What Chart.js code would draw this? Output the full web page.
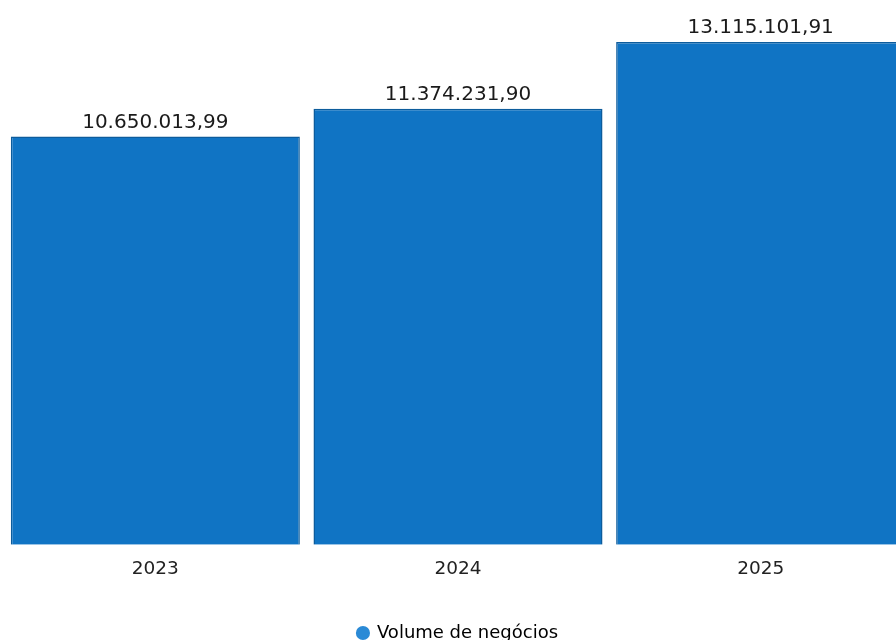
<!DOCTYPE html>
<html>
<head>
<meta charset="utf-8">
<script src="https://cdn.jsdelivr.net/npm/chart.js@4/dist/chart.umd.min.js"></script>
<style>
  html, body { margin: 0; padding: 0; background: #fff; overflow: hidden; }
  #wrap { position: absolute; left: 0; top: 0; width: 915px; height: 652px; }
</style>
</head>
<body>
<div id="wrap"><canvas id="volumeChart" width="915" height="652"></canvas></div>
<script>
const years = ['2023', '2024', '2025'];
const volumes = [10650013.99, 11374231.90, 13115101.91];
const seriesName = 'Volume de negócios';

const formatPt = (v) => v.toLocaleString('de-DE', { minimumFractionDigits: 2, maximumFractionDigits: 2 });

// draw the value above each bar
const valueLabels = {
    id: 'valueLabels',
    afterDatasetsDraw(chart) {
        const ctx = chart.ctx;
        const meta = chart.getDatasetMeta(0);
        ctx.save();
        ctx.font = '500 20px "DejaVu Sans"';
        ctx.fillStyle = '#1a1a1a';
        ctx.textAlign = 'center';
        ctx.textBaseline = 'bottom';
        meta.data.forEach((bar, i) => {
            ctx.fillText(formatPt(volumes[i]), bar.x, bar.y - 4);
        });
        ctx.restore();
    }
};

const ctx = document.getElementById('volumeChart').getContext('2d');
new Chart(ctx, {
    type: 'bar',
    data: {
        labels: years,
        datasets: [{
            label: seriesName,
            data: volumes,
            backgroundColor: '#1074c4',
            borderColor: '#0d5c9c',
            borderWidth: 1.5,
            categoryPercentage: 1,
            barPercentage: 0.955
        }]
    },
    options: {
        responsive: false,
        animation: false,
        layout: { padding: { left: 4, right: 3, top: 8, bottom: 0 } },
        scales: {
            x: {
                grid: { display: false },
                border: { display: false },
                ticks: { color: '#222', font: { family: 'DejaVu Sans', size: 18.5 }, padding: 5 }
            },
            y: {
                display: false,
                min: 0,
                max: 14000000
            }
        },
        plugins: {
            legend: {
                position: 'bottom',
                labels: {
                    color: '#222',
                    font: { family: 'DejaVu Sans', size: 18 },
                    usePointStyle: true,
                    pointStyle: 'circle',
                    boxWidth: 10,
                    boxHeight: 10,
                    padding: 39,
                    generateLabels: (chart) => [{
                        text: seriesName,
                        fillStyle: '#2a8ad6',
                        strokeStyle: '#2a8ad6',
                        lineWidth: 0,
                        pointStyle: 'circle',
                        datasetIndex: 0
                    }]
                }
            },
            tooltip: { enabled: false }
        }
    },
    plugins: [valueLabels]
});
</script>
</body>
</html>
